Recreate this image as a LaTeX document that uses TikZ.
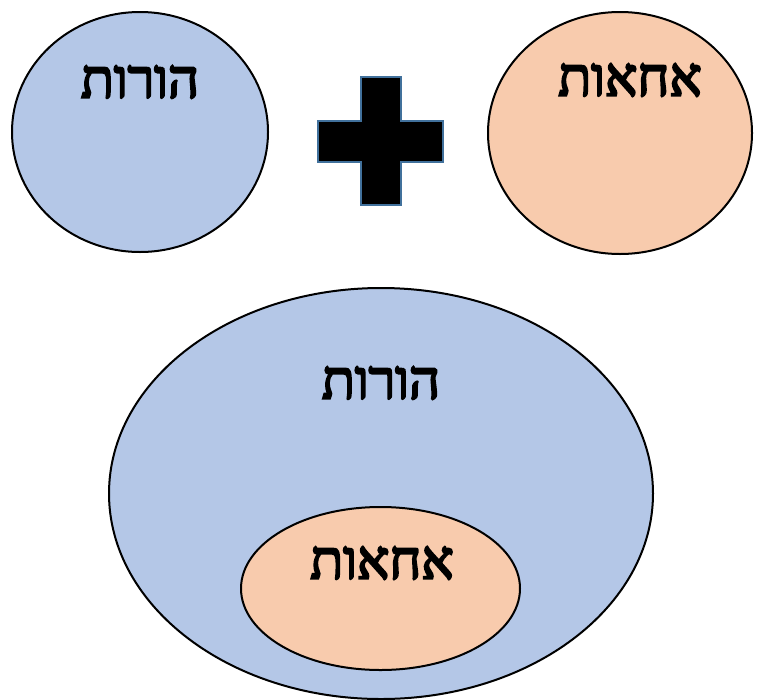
\documentclass[tikz,border=0pt]{standalone}
\usepackage{fontspec}
\newfontfamily\hebfont[Script=Hebrew, FakeBold=4]{Liberation Serif}
\TeXXeTstate=1
\usetikzlibrary{shapes.geometric}
\definecolor{parentblue}{HTML}{B4C7E7}
\definecolor{sibpeach}{HTML}{F8CBAD}
\definecolor{plusedge}{HTML}{41719C}
\tikzset{
    parentset/.style={draw, ellipse, fill=parentblue, line width=2pt, inner sep=0pt},
    sibset/.style={draw, ellipse, fill=sibpeach, line width=2pt, inner sep=0pt},
    setname/.style={font=\hebfont\fontsize{54}{54}\selectfont, inner sep=0pt}
}

\begin{document}
\begin{tikzpicture}[x=1pt, y=-1pt]
    \useasboundingbox (0,0) rectangle (762,699);
    % top row
    \node[parentset, minimum width=256pt, minimum height=240pt] (parents) at (140,132) {};
    \node[sibset, minimum width=264pt, minimum height=242pt] (siblings) at (620,133) {};
    \node[setname] (parentsname) at (140,82) {\beginR הורות\endR};
    \node[setname] (siblingsname) at (630,80) {\beginR אחאות\endR};
    % plus sign
    \draw[fill=black, draw=plusedge, line width=2pt]
        (361,77) -- (401,77) -- (401,121) -- (443,121) -- (443,162) -- (401,162)
        -- (401,205) -- (361,205) -- (361,162) -- (318,162) -- (318,121) -- (361,121) -- cycle;
    % bottom: siblings inside parents
    \node[parentset, minimum width=544pt, minimum height=411pt] (outer) at (381,493.5) {};
    \node[sibset, minimum width=279pt, minimum height=163pt] (inner) at (380.5,588.5) {};
    \node[setname] (outername) at (381,383) {\beginR הורות\endR};
    \node[setname] (innername) at (382,563) {\beginR אחאות\endR};
\end{tikzpicture}
\end{document}
